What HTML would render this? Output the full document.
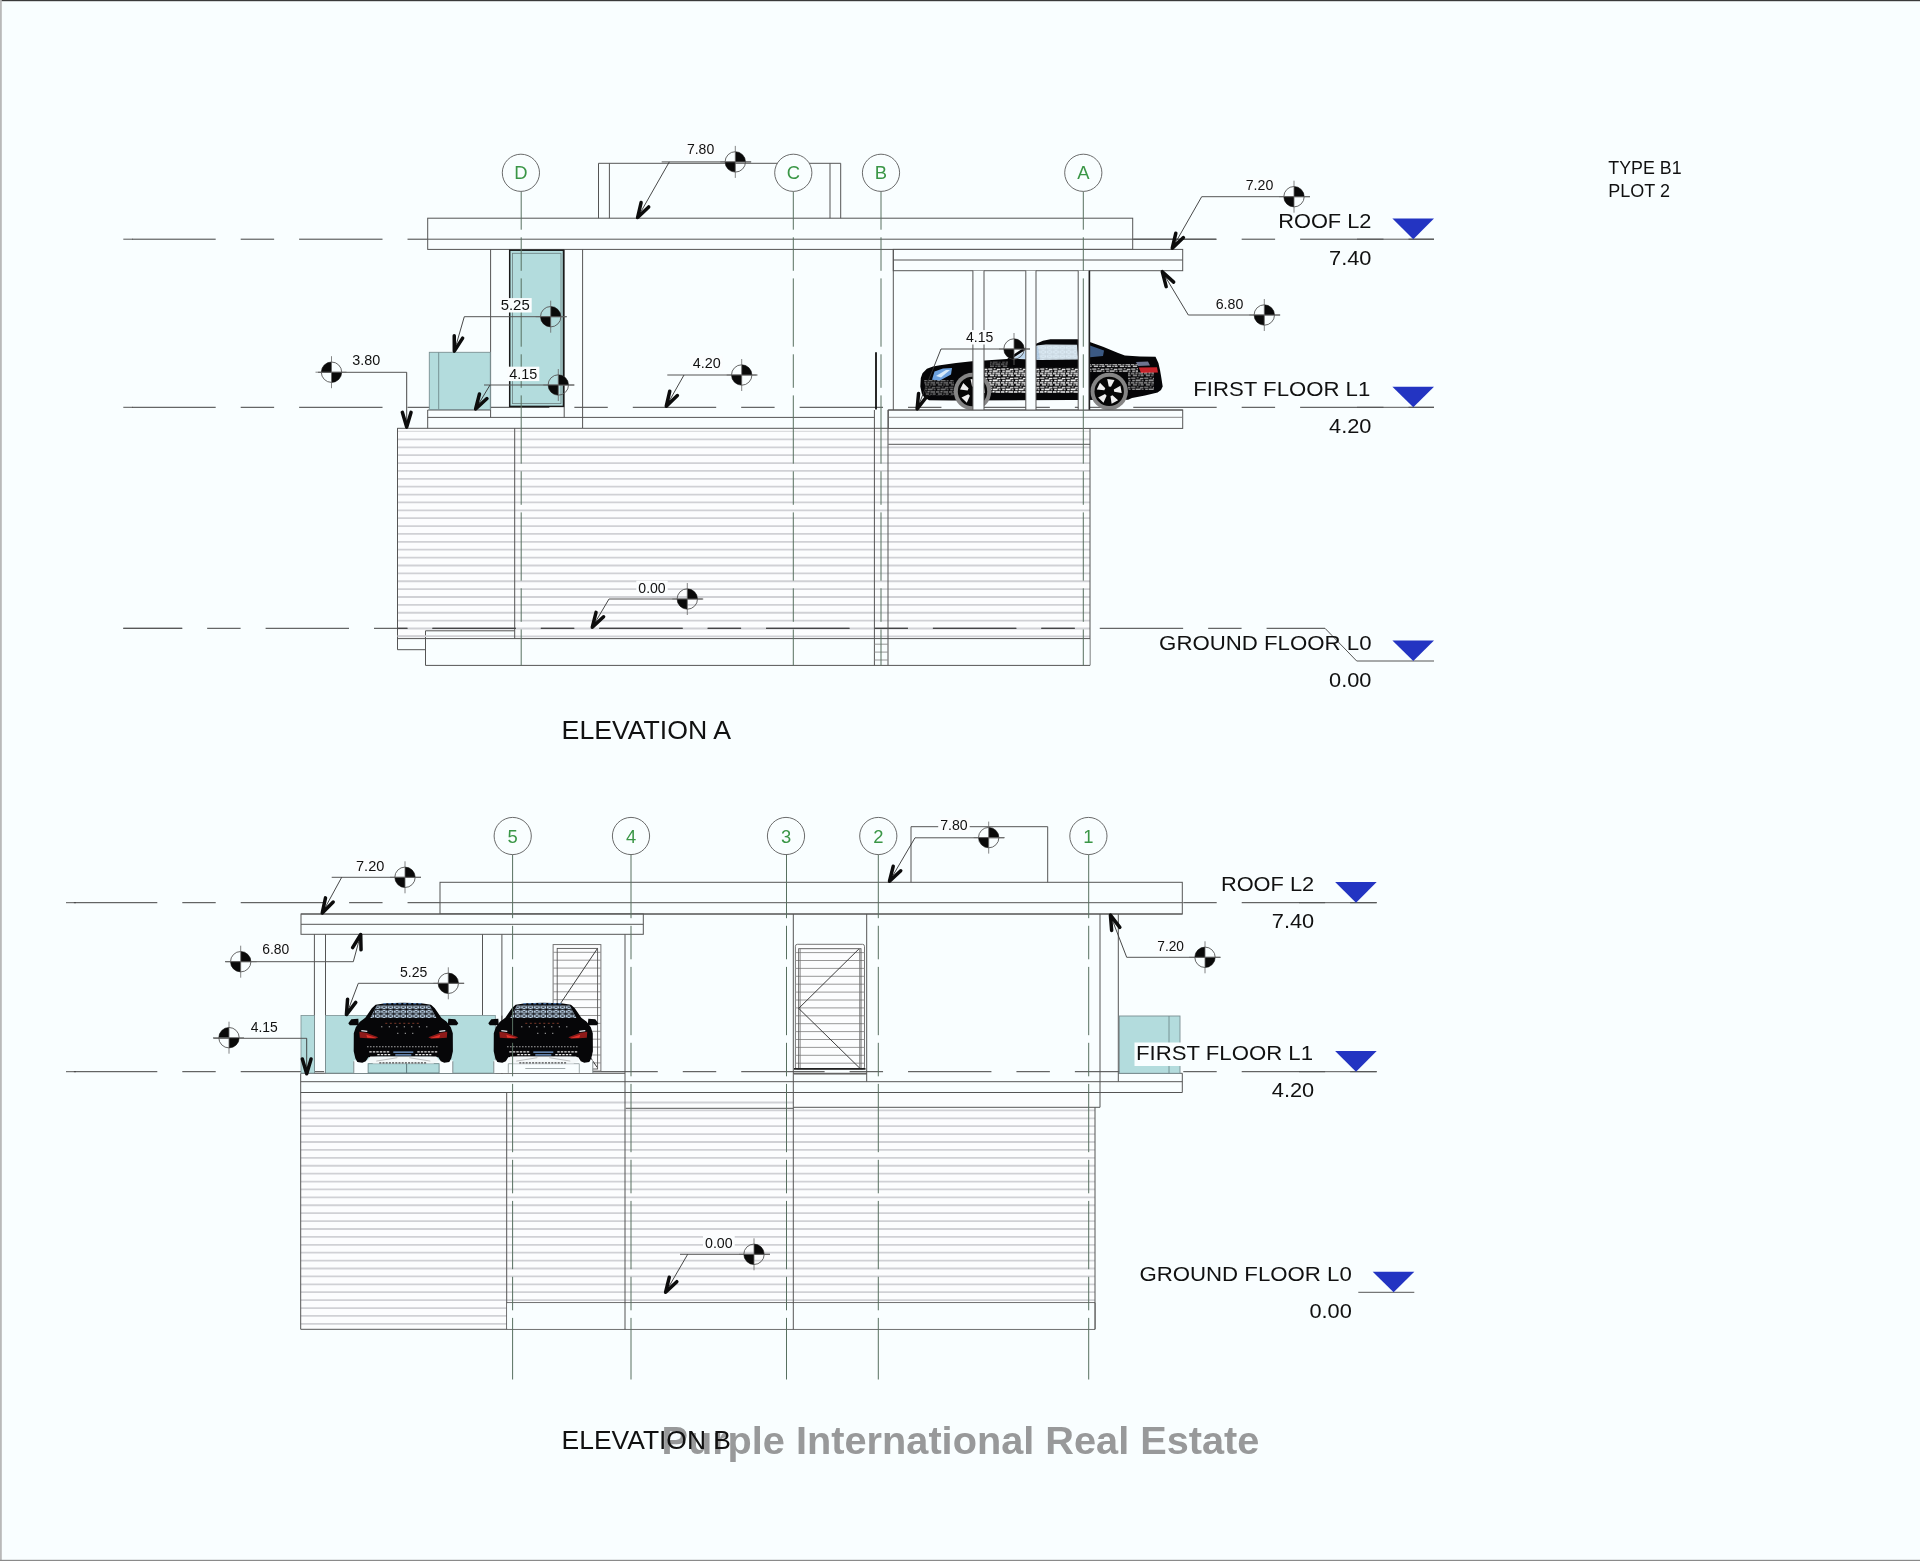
<!DOCTYPE html>
<html><head><meta charset="utf-8"><title>Elevations - Type B1 Plot 2</title>
<style>
html,body{margin:0;padding:0;background:#f9feff;}
body{width:1920px;height:1561px;overflow:hidden;font-family:"Liberation Sans",sans-serif;}
svg{display:block;font-family:"Liberation Sans",sans-serif;}
svg text{font-family:"Liberation Sans",sans-serif;}
</style></head><body>
<svg width="1920" height="1561" viewBox="0 0 1920 1561" shape-rendering="auto">
<defs><filter id="soft" x="0" y="0" width="1920" height="1561" filterUnits="userSpaceOnUse" color-interpolation-filters="sRGB"><feGaussianBlur stdDeviation="0.5"/></filter></defs>
<g filter="url(#soft)">
<rect x="0" y="0" width="1920" height="1561" fill="#f9feff"/>
<rect x="397.5" y="428.2" width="692.5" height="210.4" fill="#fcfdfe"/>
<path d="M397.5 439.4H1090M397.5 447.28H1090M397.5 455.16H1090M397.5 463.04H1090M397.5 470.92H1090M397.5 478.8H1090M397.5 486.68H1090M397.5 494.56H1090M397.5 502.44H1090M397.5 510.32H1090M397.5 518.2H1090M397.5 526.08H1090M397.5 533.96H1090M397.5 541.84H1090M397.5 549.72H1090M397.5 557.6H1090M397.5 565.48H1090M397.5 573.36H1090M397.5 581.24H1090M397.5 589.12H1090M397.5 597H1090M397.5 604.88H1090M397.5 612.76H1090M397.5 620.64H1090M397.5 628.52H1090M397.5 636.4H1090" stroke="#d0d1d5" stroke-width="1.8" fill="none"/>
<line x1="397.5" y1="431.3" x2="1090" y2="431.3" stroke="#d4d5d8" stroke-width="1.0" />
<line x1="123.3" y1="239.2" x2="133" y2="239.2" stroke="#555555" stroke-width="1.0" />
<path d="M132.3 239.2H215.7M240.7 239.2H274.13M299.13 239.2H382.53M407.53 239.2H440.96M465.96 239.2H549.36M574.36 239.2H607.79M632.79 239.2H716.19M741.19 239.2H774.62M799.62 239.2H883.02M908.02 239.2H941.45M966.45 239.2H1049.85M1074.85 239.2H1108.28M1133.28 239.2H1216.68M1241.68 239.2H1275.11M1300.11 239.2H1383.51M1408.51 239.2H1434" stroke="#404040" stroke-width="1.0" fill="none"/>
<line x1="123.3" y1="407.3" x2="133" y2="407.3" stroke="#555555" stroke-width="1.0" />
<path d="M132.3 407.3H215.7M240.7 407.3H274.13M299.13 407.3H382.53M407.53 407.3H440.96M465.96 407.3H549.36M574.36 407.3H607.79M632.79 407.3H716.19M741.19 407.3H774.62M799.62 407.3H883.02M908.02 407.3H941.45M966.45 407.3H1049.85M1074.85 407.3H1108.28M1133.28 407.3H1216.68M1241.68 407.3H1275.11M1300.11 407.3H1383.51M1408.51 407.3H1434" stroke="#404040" stroke-width="1.0" fill="none"/>
<path d="M123.3 628.3H182.17M207.17 628.3H240.6M265.6 628.3H349M374 628.3H407.43M432.43 628.3H515.83M540.83 628.3H574.26M599.26 628.3H682.66M707.66 628.3H741.09M766.09 628.3H849.49M874.49 628.3H907.92M932.92 628.3H1016.32M1041.32 628.3H1074.75M1099.75 628.3H1183.15M1208.15 628.3H1241.58M1266.58 628.3H1325" stroke="#404040" stroke-width="1.0" fill="none"/>
<line x1="123.3" y1="628.3" x2="182.3" y2="628.3" stroke="#555555" stroke-width="1.0" />
<path d="M1325 628.3 L1356.7 661 L1434 661" fill="none" stroke="#555555" stroke-width="1.0" stroke-linejoin="miter"/>
<line x1="1357" y1="239.2" x2="1434" y2="239.2" stroke="#555555" stroke-width="1.0" />
<line x1="1357" y1="407.3" x2="1434" y2="407.3" stroke="#555555" stroke-width="1.0" />
<rect x="427.7" y="218.2" width="705" height="31.2" fill="#f9feff" stroke="#555555" stroke-width="1.0"/>
<line x1="427.7" y1="239.2" x2="1216" y2="239.2" stroke="#555555" stroke-width="1.0" />
<path d="M598.5 218.2 L598.5 163.3 L840.7 163.3 L840.7 218.2" fill="none" stroke="#555555" stroke-width="1.0" stroke-linejoin="miter"/>
<line x1="609.4" y1="163.3" x2="609.4" y2="218.2" stroke="#555555" stroke-width="1.0" />
<line x1="830" y1="163.3" x2="830" y2="218.2" stroke="#555555" stroke-width="1.0" />
<rect x="893.3" y="249.4" width="289.4" height="21.3" fill="#f9feff" stroke="#555555" stroke-width="1.0"/>
<line x1="893.3" y1="260" x2="1182.7" y2="260" stroke="#555555" stroke-width="1.0" />
<line x1="490.6" y1="249.4" x2="490.6" y2="417.4" stroke="#555555" stroke-width="1.0" />
<line x1="582.6" y1="249.4" x2="582.6" y2="428" stroke="#555555" stroke-width="1.0" />
<line x1="564.2" y1="249.4" x2="564.2" y2="417.4" stroke="#555555" stroke-width="1.0" />
<line x1="427.7" y1="410" x2="490.6" y2="410" stroke="#555555" stroke-width="1.0" />
<line x1="427.7" y1="417.4" x2="874.3" y2="417.4" stroke="#555555" stroke-width="1.0" />
<line x1="427.7" y1="410" x2="427.7" y2="428.3" stroke="#555555" stroke-width="1.0" />
<rect x="429.3" y="352.3" width="61" height="57.2" fill="#b3dcdd" stroke="#7a8f92" stroke-width="0.9"/>
<line x1="438.7" y1="352.3" x2="438.7" y2="409.5" stroke="#6f8a8c" stroke-width="0.9" />
<rect x="509.7" y="250.2" width="53.8" height="156.2" fill="#b3dcdd" stroke="#1a1a1a" stroke-width="1.5"/>
<rect x="512.6" y="253.3" width="48.4" height="150.3" fill="none" stroke="#6c7f80" stroke-width="0.8"/>
<line x1="397.3" y1="428.3" x2="1090" y2="428.3" stroke="#555555" stroke-width="1.0" />
<rect x="888.3" y="410" width="294.4" height="18.4" fill="#f9feff" stroke="#555555" stroke-width="1.0"/>
<line x1="888.3" y1="417.3" x2="1182.7" y2="417.3" stroke="#7a7a7a" stroke-width="0.9" />
<line x1="888.3" y1="444.3" x2="1090" y2="444.3" stroke="#555555" stroke-width="1.0" />
<line x1="893.3" y1="249.4" x2="893.3" y2="410" stroke="#555555" stroke-width="1.0" />
<line x1="876" y1="352.3" x2="876" y2="409.5" stroke="#111" stroke-width="1.8" />
<line x1="397.5" y1="428.1" x2="397.5" y2="649.7" stroke="#555555" stroke-width="1.0" />
<line x1="397.5" y1="649.7" x2="425.5" y2="649.7" stroke="#555555" stroke-width="1.0" />
<line x1="1090" y1="428.3" x2="1090" y2="665.4" stroke="#555555" stroke-width="1.0" />
<rect x="426" y="631.3" width="88.2" height="33.6" fill="#f9feff"/>
<rect x="515.2" y="639.1" width="574.3" height="25.8" fill="#f9feff"/>
<line x1="425.5" y1="630.8" x2="514.7" y2="630.8" stroke="#555555" stroke-width="1.0" />
<line x1="425.5" y1="630.8" x2="425.5" y2="665.4" stroke="#555555" stroke-width="1.0" />
<line x1="425.5" y1="665.4" x2="1090" y2="665.4" stroke="#555555" stroke-width="1.0" />
<line x1="397.5" y1="636.2" x2="514.7" y2="636.2" stroke="#d0d1d5" stroke-width="1.8" />
<line x1="397.5" y1="638.6" x2="1090" y2="638.6" stroke="#555555" stroke-width="1.0" />
<line x1="514.7" y1="428.1" x2="514.7" y2="638.6" stroke="#555555" stroke-width="1.0" />
<path d="M397.5 628.3H407.43M432.43 628.3H515.83M540.83 628.3H574.26M599.26 628.3H682.66M707.66 628.3H741.09M766.09 628.3H849.49M874.49 628.3H907.92M932.92 628.3H1016.32M1041.32 628.3H1074.75" stroke="#404040" stroke-width="1.0" fill="none"/>
<line x1="874.4" y1="410" x2="874.4" y2="665.4" stroke="#555555" stroke-width="1.0" />
<line x1="888" y1="410" x2="888" y2="665.4" stroke="#555555" stroke-width="1.0" />
<line x1="874.4" y1="644.2" x2="888" y2="644.2" stroke="#8a8a8a" stroke-width="0.9" />
<line x1="874.4" y1="652.1" x2="888" y2="652.1" stroke="#8a8a8a" stroke-width="0.9" />
<line x1="874.4" y1="660" x2="888" y2="660" stroke="#8a8a8a" stroke-width="0.9" />
<rect x="300.7" y="1092.5" width="794.3" height="236.8" fill="#fcfdfe"/>
<path d="M300.7 1102.5H506.7M300.7 1110.4H506.7M300.7 1118.31H506.7M300.7 1126.21H506.7M300.7 1134.12H506.7M300.7 1142.02H506.7M300.7 1149.93H506.7M300.7 1157.83H506.7M300.7 1165.74H506.7M300.7 1173.64H506.7M300.7 1181.55H506.7M300.7 1189.45H506.7M300.7 1197.36H506.7M300.7 1205.26H506.7M300.7 1213.17H506.7M300.7 1221.07H506.7M300.7 1228.98H506.7M300.7 1236.88H506.7M300.7 1244.79H506.7M300.7 1252.69H506.7M300.7 1260.6H506.7M300.7 1268.5H506.7M300.7 1276.41H506.7M300.7 1284.31H506.7M300.7 1292.22H506.7M300.7 1300.12H506.7M300.7 1308.03H506.7M300.7 1315.93H506.7M300.7 1323.84H506.7" stroke="#d0d1d5" stroke-width="1.8" fill="none"/>
<path d="M506.7 1102.5H793.3M506.7 1110.4H793.3M506.7 1118.31H793.3M506.7 1126.21H793.3M506.7 1134.12H793.3M506.7 1142.02H793.3M506.7 1149.93H793.3M506.7 1157.83H793.3M506.7 1165.74H793.3M506.7 1173.64H793.3M506.7 1181.55H793.3M506.7 1189.45H793.3M506.7 1197.36H793.3M506.7 1205.26H793.3M506.7 1213.17H793.3M506.7 1221.07H793.3M506.7 1228.98H793.3M506.7 1236.88H793.3M506.7 1244.79H793.3M506.7 1252.69H793.3M506.7 1260.6H793.3M506.7 1268.5H793.3M506.7 1276.41H793.3M506.7 1284.31H793.3M506.7 1292.22H793.3M506.7 1300.12H793.3" stroke="#d0d1d5" stroke-width="1.8" fill="none"/>
<path d="M793.3 1110.4H1095M793.3 1118.31H1095M793.3 1126.21H1095M793.3 1134.12H1095M793.3 1142.02H1095M793.3 1149.93H1095M793.3 1157.83H1095M793.3 1165.74H1095M793.3 1173.64H1095M793.3 1181.55H1095M793.3 1189.45H1095M793.3 1197.36H1095M793.3 1205.26H1095M793.3 1213.17H1095M793.3 1221.07H1095M793.3 1228.98H1095M793.3 1236.88H1095M793.3 1244.79H1095M793.3 1252.69H1095M793.3 1260.6H1095M793.3 1268.5H1095M793.3 1276.41H1095M793.3 1284.31H1095M793.3 1292.22H1095M793.3 1300.12H1095" stroke="#d0d1d5" stroke-width="1.8" fill="none"/>
<line x1="66" y1="902.7" x2="76" y2="902.7" stroke="#555555" stroke-width="1.0" />
<path d="M73.9 902.7H157.3M182.3 902.7H215.73M240.73 902.7H324.13M349.13 902.7H382.56M407.56 902.7H490.96M515.96 902.7H549.39M574.39 902.7H657.79M682.79 902.7H716.22M741.22 902.7H824.62M849.62 902.7H883.05M908.05 902.7H991.45M1016.45 902.7H1049.88M1074.88 902.7H1158.28M1183.28 902.7H1216.71M1241.71 902.7H1325.11M1350.11 902.7H1376.7" stroke="#404040" stroke-width="1.0" fill="none"/>
<line x1="1299" y1="902.7" x2="1376.7" y2="902.7" stroke="#555555" stroke-width="1.0" />
<line x1="66" y1="1071.7" x2="76" y2="1071.7" stroke="#555555" stroke-width="1.0" />
<path d="M73.9 1071.7H157.3M182.3 1071.7H215.73M240.73 1071.7H324.13M349.13 1071.7H382.56M407.56 1071.7H490.96M515.96 1071.7H549.39M574.39 1071.7H657.79M682.79 1071.7H716.22M741.22 1071.7H824.62M849.62 1071.7H883.05M908.05 1071.7H991.45M1016.45 1071.7H1049.88M1074.88 1071.7H1158.28M1183.28 1071.7H1216.71M1241.71 1071.7H1325.11M1350.11 1071.7H1376.7" stroke="#404040" stroke-width="1.0" fill="none"/>
<line x1="1299" y1="1071.7" x2="1376.7" y2="1071.7" stroke="#555555" stroke-width="1.0" />
<line x1="1358.3" y1="1292.3" x2="1414.3" y2="1292.3" stroke="#555555" stroke-width="1.0" />
<rect x="440" y="882.3" width="742.3" height="31.7" fill="#f9feff" stroke="#555555" stroke-width="1.0"/>
<line x1="440" y1="902.7" x2="1182.3" y2="902.7" stroke="#555555" stroke-width="1.0" />
<path d="M911 882.3 L911 826.7 L1047.7 826.7 L1047.7 882.3" fill="none" stroke="#555555" stroke-width="1.0" stroke-linejoin="miter"/>
<rect x="301" y="914" width="342.3" height="20.3" fill="#f9feff" stroke="#555555" stroke-width="1.0"/>
<line x1="301" y1="924.3" x2="643.3" y2="924.3" stroke="#555555" stroke-width="1.0" />
<line x1="301" y1="914" x2="1182.3" y2="914" stroke="#555555" stroke-width="1.0" />
<line x1="625" y1="934.3" x2="625" y2="1329.3" stroke="#555555" stroke-width="1.0" />
<line x1="793.3" y1="914" x2="793.3" y2="1329.3" stroke="#555555" stroke-width="1.0" />
<line x1="866.7" y1="914" x2="866.7" y2="1081.7" stroke="#555555" stroke-width="1.0" />
<line x1="1100" y1="914" x2="1100" y2="1107.3" stroke="#555555" stroke-width="1.0" />
<line x1="1118.3" y1="914" x2="1118.3" y2="1081.7" stroke="#555555" stroke-width="1.0" />
<line x1="793.3" y1="1107.3" x2="1100" y2="1107.3" stroke="#555555" stroke-width="1.0" />
<line x1="625.7" y1="1108.3" x2="793.3" y2="1108.3" stroke="#555555" stroke-width="1.0" />
<line x1="301" y1="1073.3" x2="625" y2="1073.3" stroke="#555555" stroke-width="1.0" />
<line x1="300.7" y1="1081.7" x2="1182.3" y2="1081.7" stroke="#555555" stroke-width="1.0" />
<line x1="300.7" y1="1092.5" x2="1182.3" y2="1092.5" stroke="#555555" stroke-width="1.0" />
<line x1="1182.3" y1="1073.3" x2="1182.3" y2="1092.5" stroke="#555555" stroke-width="1.0" />
<line x1="1118.3" y1="1073.3" x2="1182.3" y2="1073.3" stroke="#555555" stroke-width="1.0" />
<line x1="793.3" y1="1073.3" x2="866.7" y2="1073.3" stroke="#555555" stroke-width="1.0" />
<line x1="300.7" y1="1073.3" x2="300.7" y2="1329.3" stroke="#555555" stroke-width="1.0" />
<line x1="300.7" y1="1329.3" x2="1095" y2="1329.3" stroke="#555555" stroke-width="1.0" />
<line x1="506.7" y1="1092.5" x2="506.7" y2="1329.3" stroke="#555555" stroke-width="1.0" />
<line x1="1095" y1="1107.3" x2="1095" y2="1329.3" stroke="#555555" stroke-width="1.0" />
<line x1="506.7" y1="1302.7" x2="1095" y2="1302.7" stroke="#555555" stroke-width="1.0" />
<rect x="507.2" y="1303.2" width="587.3" height="25.6" fill="#f9feff"/>
<line x1="625" y1="1302.7" x2="625" y2="1329.3" stroke="#555555" stroke-width="1.0" />
<line x1="793.3" y1="1302.7" x2="793.3" y2="1329.3" stroke="#555555" stroke-width="1.0" />
<line x1="1095" y1="1302.7" x2="1095" y2="1329.3" stroke="#555555" stroke-width="1.0" />
<rect x="1119.3" y="1016" width="60.7" height="57.3" fill="#b3dcdd" stroke="#7a8f92" stroke-width="0.9"/>
<line x1="1169" y1="1016" x2="1169" y2="1073.3" stroke="#6f8a8c" stroke-width="0.9" />
<rect x="795.4" y="944.3" width="69.1" height="124.6" rx="2" fill="#fcfdfe" stroke="#666" stroke-width="0.9"/>
<path d="M795.4 952.6H864.5M795.4 960.5H864.5M795.4 968.4H864.5M795.4 976.3H864.5M795.4 984.2H864.5M795.4 992.1H864.5M795.4 1000H864.5M795.4 1007.9H864.5M795.4 1015.8H864.5M795.4 1023.7H864.5M795.4 1031.6H864.5M795.4 1039.5H864.5M795.4 1047.4H864.5M795.4 1055.3H864.5M795.4 1063.2H864.5" stroke="#8c8c8c" stroke-width="0.9" fill="none"/>
<rect x="798.7" y="948.7" width="62.3" height="119.8" fill="none" stroke="#555" stroke-width="0.9"/>
<line x1="800.2" y1="948.7" x2="800.2" y2="1068.5" stroke="#777" stroke-width="0.8" />
<line x1="859.6" y1="948.7" x2="859.6" y2="1068.5" stroke="#777" stroke-width="0.8" />
<path d="M858.9 949 L798.7 1008.4 L859.9 1068.3" fill="none" stroke="#2a2a2a" stroke-width="0.9" stroke-linejoin="miter"/>
<line x1="794" y1="1068.9" x2="865.5" y2="1068.9" stroke="#222" stroke-width="1.6" />
<line x1="794" y1="1074" x2="866.6" y2="1074" stroke="#555555" stroke-width="1.0" />
<rect x="553.1" y="944.6" width="47.8" height="126.5" fill="#fcfdfe" stroke="#666" stroke-width="0.9"/>
<path d="M553.1 952.3H600.9M553.1 960.2H600.9M553.1 968.1H600.9M553.1 976H600.9M553.1 983.9H600.9M553.1 991.8H600.9M553.1 999.7H600.9M553.1 1007.6H600.9M553.1 1015.5H600.9M553.1 1023.4H600.9M553.1 1031.3H600.9M553.1 1039.2H600.9M553.1 1047.1H600.9M553.1 1055H600.9M553.1 1062.9H600.9" stroke="#8c8c8c" stroke-width="0.9" fill="none"/>
<rect x="557.2" y="948.4" width="40.4" height="120.6" fill="none" stroke="#555" stroke-width="0.9"/>
<path d="M597.1 949 L557.2 1008.4 L597.1 1067.3" fill="none" stroke="#2a2a2a" stroke-width="0.9" stroke-linejoin="miter"/>
<line x1="314.4" y1="934.3" x2="314.4" y2="1073.3" stroke="#555555" stroke-width="1.0" />
<line x1="325.5" y1="934.3" x2="325.5" y2="1073.3" stroke="#555555" stroke-width="1.0" />
<line x1="482.5" y1="934.3" x2="482.5" y2="1015.6" stroke="#555555" stroke-width="1.0" />
<line x1="501.9" y1="934.3" x2="501.9" y2="1073.3" stroke="#555555" stroke-width="1.0" />
<rect x="301" y="1015.6" width="13.4" height="57.5" fill="#b3dcdd" stroke="#7a8f92" stroke-width="0.8"/>
<rect x="325.5" y="1015.6" width="169.8" height="57.5" fill="#b3dcdd" stroke="#7a8f92" stroke-width="0.8"/>
<line x1="501.9" y1="1015.6" x2="501.9" y2="1073.3" stroke="#555555" stroke-width="1.0" />
<defs><pattern id="speck" width="13" height="9.2" patternUnits="userSpaceOnUse"><path d="M0.2 0.5h4.2v1.2h-4.2z M5.6 0.2h2v1h-2z M8.8 0.7h3.6v1.3h-3.6z M1.2 2.6h2.6v1.2h-2.6z M4.6 2.4h5v1.4h-5z M10.6 2.9h2v1h-2z M0 4.9h3.4v1.2h-3.4z M4.4 4.7h2.2v1.2h-2.2z M7.4 4.9h4.8v1.3h-4.8z M1.8 7h4.4v1.2h-4.4z M7.2 7.2h1.6v1h-1.6z M9.6 6.9h3v1.3h-3z" fill="#fff"/></pattern><pattern id="mesh" width="6.4" height="4.4" patternUnits="userSpaceOnUse"><path d="M0 0L6.4 4.4M6.4 0L0 4.4M0 2.2H6.4M3.2 0V4.4" stroke="#07070a" stroke-width="0.7" fill="none"/></pattern></defs>
<g transform="translate(0 0)">
<path d="M929 400.2 L924 397 L921.8 393.6 L920.3 386.4 L920.8 378 L922.5 373.2 L926.9 368.8 L933 366.6 L940 365.2 L956 363 L972 361.2 L984.5 360.5 L1007 359 L1022 349 L1036.6 343.4 L1043 340.8 L1050.4 339.2 L1077.4 339.2 L1089.8 341.9 L1103 346.8 L1117.5 352.8 L1124.8 355.4 L1140 356.4 L1155.5 356.8 L1158.4 363 L1160 370 L1161.3 377.6 L1162.7 386.4 L1161 390 L1157.6 392.4 L1145 395.5 L1132 398 L1128 399.8 L951.7 400.6 Z" fill="#050507"/>
<path d="M1012 358.6 L1026 349.6 L1038 345.3 L1046 344.6 L1077 344.8 L1078.2 359.4 L1040 360 Z" fill="#dcebf5"/>
<path d="M1014 358.2 L1027 350 L1038 346 L1040 359.6 Z" fill="#9fc3e6" opacity="0.55"/>
<rect x="1037" y="345" width="41" height="15" fill="url(#mesh)" opacity="0.1"/>
<path d="M1090 345.5 L1104 350.5 L1103 356 L1090 357.2 Z" fill="#4d76ad" opacity="0.75"/>
<path d="M932 379.8 L934.5 371.5 L943 368.6 L952 368 L951 374.5 L940 380.6 Z" fill="#6da2df"/>
<path d="M936 376 L946 370 L950 370 L941 377.5 Z" fill="#d8ebfa"/>
<path d="M1138.7 367.6 L1157 367.2 L1158 372.6 L1141 373 Z" fill="#c7232a"/>
<path d="M1136 362 L1148 361.5 L1150 365.5 L1138 366 Z" fill="#9aa4c9" opacity="0.7"/>
<path d="M984.5 367 H1078 V393 H984.5 Z" fill="url(#speck)"/>
<path d="M1090 364 H1138 V372 H1090 Z" fill="url(#speck)" opacity="0.8"/>
<path d="M1128 372 H1154 V390 H1128 Z" fill="url(#speck)" opacity="0.6"/>
<path d="M924 380 H954 V396 H926 Z" fill="url(#speck)" opacity="0.45"/>
<path d="M990 361.5 H1008 V367 H990 Z" fill="url(#speck)" opacity="0.4"/>
<circle cx="972.5" cy="391.5" r="18.7" fill="#858585"/>
<circle cx="972.5" cy="391.5" r="14.7" fill="#060606"/>
<path d="M972.06 386.52L970.53 379.06L977.82 380.08L974.29 386.83ZM977.1 389.55L983.73 385.78L985.01 393.04L977.49 391.76ZM975.78 395.27L981.41 400.41L974.9 403.87L973.79 396.33ZM969.92 395.79L966.78 402.73L961.48 397.61L968.31 394.22ZM967.63 390.38L960.06 389.53L963.28 382.91L968.61 388.35Z" fill="#efefef"/>
<circle cx="1109.2" cy="391.4" r="18.7" fill="#858585"/>
<circle cx="1109.2" cy="391.4" r="14.7" fill="#060606"/>
<path d="M1108.76 386.42L1107.23 378.96L1114.52 379.98L1110.99 386.73ZM1113.8 389.45L1120.43 385.68L1121.71 392.94L1114.19 391.66ZM1112.48 395.17L1118.11 400.31L1111.6 403.77L1110.49 396.23ZM1106.62 395.69L1103.48 402.63L1098.18 397.51L1105.01 394.12ZM1104.33 390.28L1096.76 389.43L1099.98 382.81L1105.31 388.25Z" fill="#efefef"/>
</g>
<g transform="translate(403.3 1073.3)">
<rect x="-49.5" y="-13" width="99" height="12.7" fill="#f9feff"/>
<rect x="-35.2" y="-9.6" width="71" height="9.2" fill="#b3dcdd" stroke="#5f7d80" stroke-width="0.8"/>
<path d="M3.3 -9.6V-0.4" stroke="#4f6d70" stroke-width="0.9"/>
<path d="M-49.5 -12V-0.4M49.5 -12V-0.4" stroke="#7a8486" stroke-width="0.9"/>
<path d="M0 -70.6 L18 -70 L27.7 -68.6 L31.5 -65 L38 -55.5 L43.4 -51.5 L47.5 -46 L49.5 -40 L49.6 -22 L48 -15 L46 -11.2 L41 -10.6 L37.5 -12 L35 -16 L26 -16.6 L-26 -16.6 L-35 -16 L-37.5 -12 L-41 -10.6 L-46 -11.2 L-48 -15 L-49.6 -22 L-49.5 -40 L-47.5 -46 L-43.4 -51.5 L-38 -55.5 L-31.5 -65 L-27.7 -68.6 L-18 -70 Z" fill="#060608"/>
<path d="M-33 -16.8 L33 -16.8 L36 -12.5 L30 -9.8 L-30 -9.8 L-36 -12.5 Z" fill="#f4f8f9"/>
<path d="M-24 -10.4H24" stroke="#222" stroke-width="1" stroke-dasharray="2 1.2"/>
<path d="M-27 -12.2L-6 -15.6M6 -15.6L27 -12.2" stroke="#999" stroke-width="0.6"/>
<path d="M-55 -50 L-52 -54 L-45 -54.6 L-44.5 -48 L-53.5 -48 Z M55 -50 L52 -54 L45 -54.6 L44.5 -48 L53.5 -48 Z" fill="#060608"/>
<path d="M-33 -55.4 L-26.4 -67.8 L26.4 -67.8 L33 -55.4 Z" fill="#c4dcf2"/>
<path d="M-33 -55.4 L-26.4 -67.8 L26.4 -67.8 L33 -55.4 Z" fill="url(#mesh)"/>
<path d="M-20 -69.6H20" stroke="#5b8ed0" stroke-width="1.1" stroke-dasharray="3 2"/>
<path d="M-44 -41.6 L-37 -40.6 L-25 -36 L-28 -34.6 L-43.5 -35.6 Z M44 -41.6 L37 -40.6 L25 -36 L28 -34.6 L43.5 -35.6 Z" fill="#8e1a19"/>
<path d="M-37 -38.6 L-27 -35.4 L-36 -35.6 Z M37 -38.6 L27 -35.4 L36 -35.6 Z" fill="#e2342c"/>
<path d="M-42 -42.6 L-36 -42 M42 -42.6 L36 -42" stroke="#e8e8f0" stroke-width="1.2"/>
<path d="M-36 -26.5H36" stroke="#e4e4e4" stroke-width="1.1" stroke-dasharray="1.1 1.9"/>
<path d="M-18 -50H18" stroke="#7c3a2a" stroke-width="1" stroke-dasharray="2 2.5"/>
<path d="M-22 -46.5H24M-6 -40H12" stroke="#dcdcdc" stroke-width="1" stroke-dasharray="1 6.5"/>
<path d="M-34 -21.5H-14M14 -21.5H34M-26 -18.6H-12M12 -18.6H28" stroke="#e6e6e6" stroke-width="1.2" stroke-dasharray="2.4 1.1"/>
<path d="M-10 -21.2H10M-8 -18.4H8" stroke="#7fa7dc" stroke-width="1.3"/>
</g>
<g transform="translate(543.3 1073.3)">
<rect x="-49.5" y="-13" width="99" height="12.7" fill="#f9feff"/>
<path d="M-35 -9.6H36M-35 -9.6V-0.4M36 -9.6V-0.4M-18 -4.8H22" stroke="#8d9799" stroke-width="0.8" fill="none"/>
<path d="M-49.5 -12V-0.4M49.5 -12V-0.4" stroke="#7a8486" stroke-width="0.9"/>
<path d="M0 -70.6 L18 -70 L27.7 -68.6 L31.5 -65 L38 -55.5 L43.4 -51.5 L47.5 -46 L49.5 -40 L49.6 -22 L48 -15 L46 -11.2 L41 -10.6 L37.5 -12 L35 -16 L26 -16.6 L-26 -16.6 L-35 -16 L-37.5 -12 L-41 -10.6 L-46 -11.2 L-48 -15 L-49.6 -22 L-49.5 -40 L-47.5 -46 L-43.4 -51.5 L-38 -55.5 L-31.5 -65 L-27.7 -68.6 L-18 -70 Z" fill="#060608"/>
<path d="M-33 -16.8 L33 -16.8 L36 -12.5 L30 -9.8 L-30 -9.8 L-36 -12.5 Z" fill="#f4f8f9"/>
<path d="M-24 -10.4H24" stroke="#222" stroke-width="1" stroke-dasharray="2 1.2"/>
<path d="M-27 -12.2L-6 -15.6M6 -15.6L27 -12.2" stroke="#999" stroke-width="0.6"/>
<path d="M-55 -50 L-52 -54 L-45 -54.6 L-44.5 -48 L-53.5 -48 Z M55 -50 L52 -54 L45 -54.6 L44.5 -48 L53.5 -48 Z" fill="#060608"/>
<path d="M-33 -55.4 L-26.4 -67.8 L26.4 -67.8 L33 -55.4 Z" fill="#c4dcf2"/>
<path d="M-33 -55.4 L-26.4 -67.8 L26.4 -67.8 L33 -55.4 Z" fill="url(#mesh)"/>
<path d="M-20 -69.6H20" stroke="#5b8ed0" stroke-width="1.1" stroke-dasharray="3 2"/>
<path d="M-44 -41.6 L-37 -40.6 L-25 -36 L-28 -34.6 L-43.5 -35.6 Z M44 -41.6 L37 -40.6 L25 -36 L28 -34.6 L43.5 -35.6 Z" fill="#8e1a19"/>
<path d="M-37 -38.6 L-27 -35.4 L-36 -35.6 Z M37 -38.6 L27 -35.4 L36 -35.6 Z" fill="#e2342c"/>
<path d="M-42 -42.6 L-36 -42 M42 -42.6 L36 -42" stroke="#e8e8f0" stroke-width="1.2"/>
<path d="M-36 -26.5H36" stroke="#e4e4e4" stroke-width="1.1" stroke-dasharray="1.1 1.9"/>
<path d="M-18 -50H18" stroke="#7c3a2a" stroke-width="1" stroke-dasharray="2 2.5"/>
<path d="M-22 -46.5H24M-6 -40H12" stroke="#dcdcdc" stroke-width="1" stroke-dasharray="1 6.5"/>
<path d="M-34 -21.5H-14M14 -21.5H34M-26 -18.6H-12M12 -18.6H28" stroke="#e6e6e6" stroke-width="1.2" stroke-dasharray="2.4 1.1"/>
<path d="M-10 -21.2H10M-8 -18.4H8" stroke="#7fa7dc" stroke-width="1.3"/>
</g>
<rect x="972.9" y="270.7" width="11.1" height="139.3" fill="#f9feff"/>
<line x1="972.9" y1="270.7" x2="972.9" y2="410" stroke="#555555" stroke-width="1.0" />
<line x1="984" y1="270.7" x2="984" y2="410" stroke="#555555" stroke-width="1.0" />
<rect x="1025.8" y="270.7" width="10.2" height="139.3" fill="#f9feff"/>
<line x1="1025.8" y1="270.7" x2="1025.8" y2="410" stroke="#555555" stroke-width="1.0" />
<line x1="1036" y1="270.7" x2="1036" y2="410" stroke="#555555" stroke-width="1.0" />
<rect x="1078.2" y="270.7" width="11.2" height="139.3" fill="#f9feff"/>
<line x1="1078.2" y1="270.7" x2="1078.2" y2="410" stroke="#555555" stroke-width="1.0" />
<line x1="1089.4" y1="270.7" x2="1089.4" y2="410" stroke="#555555" stroke-width="1.0" />
<line x1="1089.4" y1="270.7" x2="1089.4" y2="410" stroke="#222" stroke-width="1.6" />
<line x1="888.3" y1="410" x2="1182.7" y2="410" stroke="#555555" stroke-width="1.0" />
<path d="M521.2 191.5V229.7M521.2 237.3V270.8M521.2 278.4V346.7M521.2 354.3V387.8M521.2 395.4V463.7M521.2 471.3V504.8M521.2 512.4V580.7M521.2 588.3V621.8M521.2 629.4V665.5" stroke="#587060" stroke-width="1.0" fill="none"/>
<path d="M793.3 191.5V229.7M793.3 237.3V270.8M793.3 278.4V346.7M793.3 354.3V387.8M793.3 395.4V463.7M793.3 471.3V504.8M793.3 512.4V580.7M793.3 588.3V621.8M793.3 629.4V665.5" stroke="#587060" stroke-width="1.0" fill="none"/>
<path d="M881 191.5V229.7M881 237.3V270.8M881 278.4V346.7M881 354.3V387.8M881 395.4V463.7M881 471.3V504.8M881 512.4V580.7M881 588.3V621.8M881 629.4V665.5" stroke="#587060" stroke-width="1.0" fill="none"/>
<path d="M1083.3 191.5V229.7M1083.3 237.3V270.8M1083.3 278.4V346.7M1083.3 354.3V387.8M1083.3 395.4V463.7M1083.3 471.3V504.8M1083.3 512.4V580.7M1083.3 588.3V621.8M1083.3 629.4V665.5" stroke="#587060" stroke-width="1.0" fill="none"/>
<path d="M512.6 854.5V918.2M512.6 925.8V959.3M512.6 966.9V1035.2M512.6 1042.8V1076.3M512.6 1083.9V1152.2M512.6 1159.8V1193.3M512.6 1200.9V1269.2M512.6 1276.8V1310.3M512.6 1317.9V1379.5" stroke="#587060" stroke-width="1.0" fill="none"/>
<path d="M631 854.5V918.2M631 925.8V959.3M631 966.9V1035.2M631 1042.8V1076.3M631 1083.9V1152.2M631 1159.8V1193.3M631 1200.9V1269.2M631 1276.8V1310.3M631 1317.9V1379.5" stroke="#587060" stroke-width="1.0" fill="none"/>
<path d="M786.5 854.5V918.2M786.5 925.8V959.3M786.5 966.9V1035.2M786.5 1042.8V1076.3M786.5 1083.9V1152.2M786.5 1159.8V1193.3M786.5 1200.9V1269.2M786.5 1276.8V1310.3M786.5 1317.9V1379.5" stroke="#587060" stroke-width="1.0" fill="none"/>
<path d="M878.3 854.5V918.2M878.3 925.8V959.3M878.3 966.9V1035.2M878.3 1042.8V1076.3M878.3 1083.9V1152.2M878.3 1159.8V1193.3M878.3 1200.9V1269.2M878.3 1276.8V1310.3M878.3 1317.9V1379.5" stroke="#587060" stroke-width="1.0" fill="none"/>
<path d="M1088.7 854.5V918.2M1088.7 925.8V959.3M1088.7 966.9V1035.2M1088.7 1042.8V1076.3M1088.7 1083.9V1152.2M1088.7 1159.8V1193.3M1088.7 1200.9V1269.2M1088.7 1276.8V1310.3M1088.7 1317.9V1379.5" stroke="#587060" stroke-width="1.0" fill="none"/>
<circle cx="520.9" cy="172.8" r="18.6" fill="#f9feff" stroke="#5a5a5a" stroke-width="0.9"/>
<text x="520.9" y="179.4" font-size="18.4" fill="#3a9646" text-anchor="middle" font-weight="normal" >D</text>
<circle cx="793.3" cy="172.8" r="18.6" fill="#f9feff" stroke="#5a5a5a" stroke-width="0.9"/>
<text x="793.3" y="179.4" font-size="18.4" fill="#3a9646" text-anchor="middle" font-weight="normal" >C</text>
<circle cx="881" cy="172.8" r="18.6" fill="#f9feff" stroke="#5a5a5a" stroke-width="0.9"/>
<text x="881" y="179.4" font-size="18.4" fill="#3a9646" text-anchor="middle" font-weight="normal" >B</text>
<circle cx="1083.3" cy="172.8" r="18.6" fill="#f9feff" stroke="#5a5a5a" stroke-width="0.9"/>
<text x="1083.3" y="179.4" font-size="18.4" fill="#3a9646" text-anchor="middle" font-weight="normal" >A</text>
<circle cx="512.7" cy="836" r="18.6" fill="#f9feff" stroke="#5a5a5a" stroke-width="0.9"/>
<text x="512.7" y="842.6" font-size="18.4" fill="#3a9646" text-anchor="middle" font-weight="normal" >5</text>
<circle cx="631" cy="836" r="18.6" fill="#f9feff" stroke="#5a5a5a" stroke-width="0.9"/>
<text x="631" y="842.6" font-size="18.4" fill="#3a9646" text-anchor="middle" font-weight="normal" >4</text>
<circle cx="786" cy="836" r="18.6" fill="#f9feff" stroke="#5a5a5a" stroke-width="0.9"/>
<text x="786" y="842.6" font-size="18.4" fill="#3a9646" text-anchor="middle" font-weight="normal" >3</text>
<circle cx="878.3" cy="836" r="18.6" fill="#f9feff" stroke="#5a5a5a" stroke-width="0.9"/>
<text x="878.3" y="842.6" font-size="18.4" fill="#3a9646" text-anchor="middle" font-weight="normal" >2</text>
<circle cx="1088.4" cy="836" r="18.6" fill="#f9feff" stroke="#5a5a5a" stroke-width="0.9"/>
<text x="1088.4" y="842.6" font-size="18.4" fill="#3a9646" text-anchor="middle" font-weight="normal" >1</text>
<line x1="661.7" y1="161.9" x2="751" y2="161.9" stroke="#555" stroke-width="1.0" />
<line x1="669.3" y1="161.9" x2="637" y2="218.6" stroke="#333" stroke-width="0.9" />
<path d="M641.1 202.56L637.59 217.56L648.7 206.89" stroke="#0c0c0c" stroke-width="3.5" fill="none" stroke-linecap="round" stroke-linejoin="round"/>
<g transform="translate(735.3 161.9)"><circle r="10.2" fill="none" stroke="#555" stroke-width="0.9"/><path d="M0 0V-10.2A10.2 10.2 0 0 1 10.2 0Z M0 0V10.2A10.2 10.2 0 0 1 -10.2 0Z" fill="#0a0a0a"/><path d="M0 -16V16M-15 0H16" stroke="#666" stroke-width="0.8" fill="none"/></g>
<rect x="684.9" y="142.2" width="31.3" height="14.4" fill="#fbfdfe"/>
<text x="686.9" y="154.2" font-size="14" fill="#111" text-anchor="start" font-weight="normal" textLength="27.3" lengthAdjust="spacingAndGlyphs" >7.80</text>
<line x1="464.3" y1="316.7" x2="566.7" y2="316.7" stroke="#555" stroke-width="1.0" />
<line x1="464.3" y1="316.7" x2="454" y2="352.3" stroke="#333" stroke-width="0.9" />
<path d="M454.24 335.75L454.33 351.15L462.64 338.18" stroke="#0c0c0c" stroke-width="3.5" fill="none" stroke-linecap="round" stroke-linejoin="round"/>
<g transform="translate(550.7 316.7)"><circle r="10.2" fill="none" stroke="#555" stroke-width="0.9"/><path d="M0 0V-10.2A10.2 10.2 0 0 1 10.2 0Z M0 0V10.2A10.2 10.2 0 0 1 -10.2 0Z" fill="#0a0a0a"/><path d="M0 -16V16M-15 0H16" stroke="#666" stroke-width="0.8" fill="none"/></g>
<rect x="498.7" y="298.1" width="33" height="14.4" fill="#fbfdfe"/>
<text x="500.7" y="310.1" font-size="14" fill="#111" text-anchor="start" font-weight="normal" textLength="29" lengthAdjust="spacingAndGlyphs" >5.25</text>
<line x1="484" y1="385" x2="574.3" y2="385" stroke="#555" stroke-width="1.0" />
<line x1="490" y1="385" x2="475" y2="410" stroke="#333" stroke-width="0.9" />
<path d="M479.46 394.06L475.62 408.97L486.96 398.56" stroke="#0c0c0c" stroke-width="3.5" fill="none" stroke-linecap="round" stroke-linejoin="round"/>
<g transform="translate(558.3 385)"><circle r="10.2" fill="none" stroke="#555" stroke-width="0.9"/><path d="M0 0V-10.2A10.2 10.2 0 0 1 10.2 0Z M0 0V10.2A10.2 10.2 0 0 1 -10.2 0Z" fill="#0a0a0a"/><path d="M0 -16V16M-15 0H16" stroke="#666" stroke-width="0.8" fill="none"/></g>
<rect x="507.3" y="366.7" width="32" height="14.4" fill="#fbfdfe"/>
<text x="509.3" y="378.7" font-size="14" fill="#111" text-anchor="start" font-weight="normal" textLength="28" lengthAdjust="spacingAndGlyphs" >4.15</text>
<line x1="667.3" y1="375" x2="756.7" y2="375" stroke="#555" stroke-width="1.0" />
<line x1="684" y1="375" x2="665.7" y2="407.3" stroke="#333" stroke-width="0.9" />
<path d="M669.76 391.25L666.29 406.26L677.38 395.56" stroke="#0c0c0c" stroke-width="3.5" fill="none" stroke-linecap="round" stroke-linejoin="round"/>
<g transform="translate(741.7 375)"><circle r="10.2" fill="none" stroke="#555" stroke-width="0.9"/><path d="M0 0V-10.2A10.2 10.2 0 0 1 10.2 0Z M0 0V10.2A10.2 10.2 0 0 1 -10.2 0Z" fill="#0a0a0a"/><path d="M0 -16V16M-15 0H16" stroke="#666" stroke-width="0.8" fill="none"/></g>
<rect x="690.7" y="355.7" width="32" height="14.4" fill="#fbfdfe"/>
<text x="692.7" y="367.7" font-size="14" fill="#111" text-anchor="start" font-weight="normal" textLength="28" lengthAdjust="spacingAndGlyphs" >4.20</text>
<line x1="941" y1="349" x2="1030" y2="349" stroke="#555" stroke-width="1.0" />
<line x1="941" y1="349" x2="916.7" y2="410" stroke="#333" stroke-width="0.9" />
<path d="M918.55 393.55L917.14 408.89L926.67 396.79" stroke="#0c0c0c" stroke-width="3.5" fill="none" stroke-linecap="round" stroke-linejoin="round"/>
<g transform="translate(1014 349)"><circle r="10.2" fill="none" stroke="#555" stroke-width="0.9"/><path d="M0 0V-10.2A10.2 10.2 0 0 1 10.2 0Z M0 0V10.2A10.2 10.2 0 0 1 -10.2 0Z" fill="#0a0a0a"/><path d="M0 -16V16M-15 0H16" stroke="#666" stroke-width="0.8" fill="none"/></g>
<rect x="964" y="330.1" width="31.3" height="14.4" fill="#fbfdfe"/>
<text x="966" y="342.1" font-size="14" fill="#111" text-anchor="start" font-weight="normal" textLength="27.3" lengthAdjust="spacingAndGlyphs" >4.15</text>
<line x1="1201.7" y1="196.7" x2="1310" y2="196.7" stroke="#555" stroke-width="1.0" />
<line x1="1201.7" y1="196.7" x2="1171.7" y2="249.3" stroke="#333" stroke-width="0.9" />
<path d="M1175.81 233.26L1172.29 248.26L1183.41 237.6" stroke="#0c0c0c" stroke-width="3.5" fill="none" stroke-linecap="round" stroke-linejoin="round"/>
<g transform="translate(1294 196.7)"><circle r="10.2" fill="none" stroke="#555" stroke-width="0.9"/><path d="M0 0V-10.2A10.2 10.2 0 0 1 10.2 0Z M0 0V10.2A10.2 10.2 0 0 1 -10.2 0Z" fill="#0a0a0a"/><path d="M0 -16V16M-15 0H16" stroke="#666" stroke-width="0.8" fill="none"/></g>
<rect x="1243.7" y="178.4" width="31.6" height="14.4" fill="#fbfdfe"/>
<text x="1245.7" y="190.4" font-size="14" fill="#111" text-anchor="start" font-weight="normal" textLength="27.6" lengthAdjust="spacingAndGlyphs" >7.20</text>
<line x1="1188.3" y1="315" x2="1280" y2="315" stroke="#555" stroke-width="1.0" />
<line x1="1188.3" y1="315" x2="1161.7" y2="270.7" stroke="#333" stroke-width="0.9" />
<path d="M1173.67 282.14L1162.32 271.73L1166.17 286.64" stroke="#0c0c0c" stroke-width="3.5" fill="none" stroke-linecap="round" stroke-linejoin="round"/>
<g transform="translate(1264.3 315)"><circle r="10.2" fill="none" stroke="#555" stroke-width="0.9"/><path d="M0 0V-10.2A10.2 10.2 0 0 1 10.2 0Z M0 0V10.2A10.2 10.2 0 0 1 -10.2 0Z" fill="#0a0a0a"/><path d="M0 -16V16M-15 0H16" stroke="#666" stroke-width="0.8" fill="none"/></g>
<rect x="1213.7" y="297.4" width="31.6" height="14.4" fill="#fbfdfe"/>
<text x="1215.7" y="309.4" font-size="14" fill="#111" text-anchor="start" font-weight="normal" textLength="27.6" lengthAdjust="spacingAndGlyphs" >6.80</text>
<line x1="609" y1="599" x2="702.7" y2="599" stroke="#555" stroke-width="1.0" />
<line x1="609" y1="599" x2="591.7" y2="628.3" stroke="#333" stroke-width="0.9" />
<path d="M596.05 612.33L592.31 627.27L603.58 616.78" stroke="#0c0c0c" stroke-width="3.5" fill="none" stroke-linecap="round" stroke-linejoin="round"/>
<g transform="translate(687.3 599)"><circle r="10.2" fill="none" stroke="#555" stroke-width="0.9"/><path d="M0 0V-10.2A10.2 10.2 0 0 1 10.2 0Z M0 0V10.2A10.2 10.2 0 0 1 -10.2 0Z" fill="#0a0a0a"/><path d="M0 -16V16M-15 0H16" stroke="#666" stroke-width="0.8" fill="none"/></g>
<rect x="636.3" y="580.7" width="31.4" height="14.4" fill="#fbfdfe"/>
<text x="638.3" y="592.7" font-size="14" fill="#111" text-anchor="start" font-weight="normal" textLength="27.4" lengthAdjust="spacingAndGlyphs" >0.00</text>
<line x1="318" y1="372.3" x2="406.7" y2="372.3" stroke="#555" stroke-width="1.0" />
<line x1="406.7" y1="372.3" x2="406.7" y2="428.3" stroke="#333" stroke-width="0.9" />
<path d="M402.33 412.33L406.7 427.1L411.07 412.33" stroke="#0c0c0c" stroke-width="3.5" fill="none" stroke-linecap="round" stroke-linejoin="round"/>
<g transform="translate(331.5 372.2) scale(-1 1)"><circle r="10.2" fill="none" stroke="#555" stroke-width="0.9"/><path d="M0 0V-10.2A10.2 10.2 0 0 1 10.2 0Z M0 0V10.2A10.2 10.2 0 0 1 -10.2 0Z" fill="#0a0a0a"/><path d="M0 -16V16M-15 0H16" stroke="#666" stroke-width="0.8" fill="none"/></g>
<text x="352.3" y="364.9" font-size="14" fill="#111" text-anchor="start" font-weight="normal" textLength="28" lengthAdjust="spacingAndGlyphs" >3.80</text>
<line x1="331.7" y1="877.3" x2="421" y2="877.3" stroke="#555" stroke-width="1.0" />
<line x1="341.7" y1="877.3" x2="321.7" y2="914" stroke="#333" stroke-width="0.9" />
<path d="M325.5 897.89L322.27 912.95L333.18 902.07" stroke="#0c0c0c" stroke-width="3.5" fill="none" stroke-linecap="round" stroke-linejoin="round"/>
<g transform="translate(405 877.3)"><circle r="10.2" fill="none" stroke="#555" stroke-width="0.9"/><path d="M0 0V-10.2A10.2 10.2 0 0 1 10.2 0Z M0 0V10.2A10.2 10.2 0 0 1 -10.2 0Z" fill="#0a0a0a"/><path d="M0 -16V16M-15 0H16" stroke="#666" stroke-width="0.8" fill="none"/></g>
<rect x="354" y="859.1" width="32.3" height="14.4" fill="#fbfdfe"/>
<text x="356" y="871.1" font-size="14" fill="#111" text-anchor="start" font-weight="normal" textLength="28.3" lengthAdjust="spacingAndGlyphs" >7.20</text>
<line x1="225" y1="961.7" x2="353.3" y2="961.7" stroke="#555" stroke-width="1.0" />
<line x1="353.3" y1="961.7" x2="361" y2="933.3" stroke="#333" stroke-width="0.9" />
<path d="M361.04 949.85L360.69 934.46L352.6 947.56" stroke="#0c0c0c" stroke-width="3.5" fill="none" stroke-linecap="round" stroke-linejoin="round"/>
<g transform="translate(240.7 961.7)"><circle r="10.2" fill="none" stroke="#555" stroke-width="0.9"/><path d="M0 0V-10.2A10.2 10.2 0 0 1 10.2 0Z M0 0V10.2A10.2 10.2 0 0 1 -10.2 0Z" fill="#0a0a0a"/><path d="M0 -16V16M-15 0H16" stroke="#666" stroke-width="0.8" fill="none"/></g>
<rect x="260.3" y="942.4" width="31" height="14.4" fill="#fbfdfe"/>
<text x="262.3" y="954.4" font-size="14" fill="#111" text-anchor="start" font-weight="normal" textLength="27" lengthAdjust="spacingAndGlyphs" >6.80</text>
<line x1="358.3" y1="983.3" x2="464" y2="983.3" stroke="#555" stroke-width="1.0" />
<line x1="358.3" y1="983.3" x2="346" y2="1015.7" stroke="#333" stroke-width="0.9" />
<path d="M347.58 999.22L346.43 1014.58L355.76 1002.33" stroke="#0c0c0c" stroke-width="3.5" fill="none" stroke-linecap="round" stroke-linejoin="round"/>
<g transform="translate(448.3 983.3)"><circle r="10.2" fill="none" stroke="#555" stroke-width="0.9"/><path d="M0 0V-10.2A10.2 10.2 0 0 1 10.2 0Z M0 0V10.2A10.2 10.2 0 0 1 -10.2 0Z" fill="#0a0a0a"/><path d="M0 -16V16M-15 0H16" stroke="#666" stroke-width="0.8" fill="none"/></g>
<rect x="398" y="964.7" width="31.3" height="14.4" fill="#fbfdfe"/>
<text x="400" y="976.7" font-size="14" fill="#111" text-anchor="start" font-weight="normal" textLength="27.3" lengthAdjust="spacingAndGlyphs" >5.25</text>
<line x1="915" y1="837.8" x2="1004.2" y2="837.8" stroke="#555" stroke-width="1.0" />
<line x1="915" y1="837.8" x2="888.9" y2="882.3" stroke="#333" stroke-width="0.9" />
<path d="M893.2 866.32L889.51 881.26L900.75 870.74" stroke="#0c0c0c" stroke-width="3.5" fill="none" stroke-linecap="round" stroke-linejoin="round"/>
<g transform="translate(988.7 837.6)"><circle r="10.2" fill="none" stroke="#555" stroke-width="0.9"/><path d="M0 0V-10.2A10.2 10.2 0 0 1 10.2 0Z M0 0V10.2A10.2 10.2 0 0 1 -10.2 0Z" fill="#0a0a0a"/><path d="M0 -16V16M-15 0H16" stroke="#666" stroke-width="0.8" fill="none"/></g>
<rect x="938.2" y="818" width="31.5" height="14.4" fill="#fbfdfe"/>
<text x="940.2" y="830" font-size="14" fill="#111" text-anchor="start" font-weight="normal" textLength="27.5" lengthAdjust="spacingAndGlyphs" >7.80</text>
<line x1="1126.7" y1="957.3" x2="1220.7" y2="957.3" stroke="#555" stroke-width="1.0" />
<line x1="1126.7" y1="957.3" x2="1110" y2="914" stroke="#333" stroke-width="0.9" />
<path d="M1119.83 927.32L1110.43 915.12L1111.66 930.47" stroke="#0c0c0c" stroke-width="3.5" fill="none" stroke-linecap="round" stroke-linejoin="round"/>
<g transform="translate(1205 957.3) scale(-1 1)"><circle r="10.2" fill="none" stroke="#555" stroke-width="0.9"/><path d="M0 0V-10.2A10.2 10.2 0 0 1 10.2 0Z M0 0V10.2A10.2 10.2 0 0 1 -10.2 0Z" fill="#0a0a0a"/><path d="M0 -16V16M-15 0H16" stroke="#666" stroke-width="0.8" fill="none"/></g>
<rect x="1155.3" y="939.1" width="30.7" height="14.4" fill="#fbfdfe"/>
<text x="1157.3" y="951.1" font-size="14" fill="#111" text-anchor="start" font-weight="normal" textLength="26.7" lengthAdjust="spacingAndGlyphs" >7.20</text>
<line x1="680" y1="1254.3" x2="770" y2="1254.3" stroke="#555" stroke-width="1.0" />
<line x1="687.7" y1="1254.3" x2="665" y2="1293.3" stroke="#333" stroke-width="0.9" />
<path d="M669.25 1277.3L665.6 1292.26L676.81 1281.7" stroke="#0c0c0c" stroke-width="3.5" fill="none" stroke-linecap="round" stroke-linejoin="round"/>
<g transform="translate(754 1254.3)"><circle r="10.2" fill="none" stroke="#555" stroke-width="0.9"/><path d="M0 0V-10.2A10.2 10.2 0 0 1 10.2 0Z M0 0V10.2A10.2 10.2 0 0 1 -10.2 0Z" fill="#0a0a0a"/><path d="M0 -16V16M-15 0H16" stroke="#666" stroke-width="0.8" fill="none"/></g>
<rect x="703" y="1235.7" width="31.7" height="14.4" fill="#fbfdfe"/>
<text x="705" y="1247.7" font-size="14" fill="#111" text-anchor="start" font-weight="normal" textLength="27.7" lengthAdjust="spacingAndGlyphs" >0.00</text>
<line x1="213.3" y1="1038.3" x2="306.7" y2="1038.3" stroke="#555" stroke-width="1.0" />
<line x1="306.7" y1="1038.3" x2="306.7" y2="1075" stroke="#333" stroke-width="0.9" />
<path d="M302.33 1059.03L306.7 1073.8L311.07 1059.03" stroke="#0c0c0c" stroke-width="3.5" fill="none" stroke-linecap="round" stroke-linejoin="round"/>
<g transform="translate(229 1037.7) scale(-1 1)"><circle r="10.2" fill="none" stroke="#555" stroke-width="0.9"/><path d="M0 0V-10.2A10.2 10.2 0 0 1 10.2 0Z M0 0V10.2A10.2 10.2 0 0 1 -10.2 0Z" fill="#0a0a0a"/><path d="M0 -16V16M-15 0H16" stroke="#666" stroke-width="0.8" fill="none"/></g>
<text x="250.7" y="1031.7" font-size="14" fill="#111" text-anchor="start" font-weight="normal" textLength="27" lengthAdjust="spacingAndGlyphs" >4.15</text>
<path d="M1392.4 218.6H1434L1413.3 239.2Z" fill="#2334c2"/>
<text x="1278.2" y="227.8" font-size="20.5" fill="#111" text-anchor="start" font-weight="normal" textLength="93.3" lengthAdjust="spacingAndGlyphs" >ROOF L2</text>
<text x="1329.1" y="264.8" font-size="20.5" fill="#111" text-anchor="start" font-weight="normal" textLength="42.4" lengthAdjust="spacingAndGlyphs" >7.40</text>
<path d="M1392.4 386.7H1434L1413.3 407.3Z" fill="#2334c2"/>
<text x="1193.3" y="395.9" font-size="20.5" fill="#111" text-anchor="start" font-weight="normal" textLength="177" lengthAdjust="spacingAndGlyphs" >FIRST FLOOR L1</text>
<text x="1329.1" y="432.9" font-size="20.5" fill="#111" text-anchor="start" font-weight="normal" textLength="42.4" lengthAdjust="spacingAndGlyphs" >4.20</text>
<path d="M1392.4 640.4H1434L1413.3 661Z" fill="#2334c2"/>
<text x="1159.1" y="649.6" font-size="20.5" fill="#111" text-anchor="start" font-weight="normal" textLength="212.4" lengthAdjust="spacingAndGlyphs" >GROUND FLOOR L0</text>
<text x="1329.1" y="686.6" font-size="20.5" fill="#111" text-anchor="start" font-weight="normal" textLength="42.4" lengthAdjust="spacingAndGlyphs" >0.00</text>
<path d="M1335.1 882.1H1376.7L1356 902.7Z" fill="#2334c2"/>
<text x="1220.9" y="891.3" font-size="20.5" fill="#111" text-anchor="start" font-weight="normal" textLength="93.3" lengthAdjust="spacingAndGlyphs" >ROOF L2</text>
<text x="1271.8" y="928.3" font-size="20.5" fill="#111" text-anchor="start" font-weight="normal" textLength="42.4" lengthAdjust="spacingAndGlyphs" >7.40</text>
<rect x="1134.5" y="1042.5" width="180" height="23.5" fill="#f9feff"/>
<path d="M1335.1 1051.1H1376.7L1356 1071.7Z" fill="#2334c2"/>
<text x="1136" y="1060.3" font-size="20.5" fill="#111" text-anchor="start" font-weight="normal" textLength="177" lengthAdjust="spacingAndGlyphs" >FIRST FLOOR L1</text>
<text x="1271.8" y="1097.3" font-size="20.5" fill="#111" text-anchor="start" font-weight="normal" textLength="42.4" lengthAdjust="spacingAndGlyphs" >4.20</text>
<path d="M1372.7 1271.7H1414.3L1393.6 1292.3Z" fill="#2334c2"/>
<text x="1139.4" y="1280.9" font-size="20.5" fill="#111" text-anchor="start" font-weight="normal" textLength="212.4" lengthAdjust="spacingAndGlyphs" >GROUND FLOOR L0</text>
<text x="1309.4" y="1317.9" font-size="20.5" fill="#111" text-anchor="start" font-weight="normal" textLength="42.4" lengthAdjust="spacingAndGlyphs" >0.00</text>
<text x="1608.3" y="174.3" font-size="17.7" fill="#111" text-anchor="start" font-weight="normal" textLength="73.4" lengthAdjust="spacingAndGlyphs" >TYPE B1</text>
<text x="1608.3" y="197.3" font-size="17.7" fill="#111" text-anchor="start" font-weight="normal" textLength="61.7" lengthAdjust="spacingAndGlyphs" >PLOT 2</text>
<text x="561.6" y="738.9" font-size="25.2" fill="#111" text-anchor="start" font-weight="normal" textLength="169.4" lengthAdjust="spacingAndGlyphs" >ELEVATION A</text>
<text x="661.4" y="1454.1" font-size="39.6" fill="#98999a" text-anchor="start" font-weight="bold" textLength="598" lengthAdjust="spacingAndGlyphs" >Purple International Real Estate</text>
<text x="561.6" y="1448.9" font-size="25.2" fill="#111" text-anchor="start" font-weight="normal" textLength="169.4" lengthAdjust="spacingAndGlyphs" >ELEVATION B</text>
<rect x="0" y="0" width="1920" height="1.2" fill="#3a3a3a"/>
<rect x="0" y="0" width="1.8" height="1561" fill="#b9b9b9"/>
<rect x="0" y="1559.8" width="1920" height="1.2" fill="#8a8a8a"/>
</g>
</svg>
</body></html>
